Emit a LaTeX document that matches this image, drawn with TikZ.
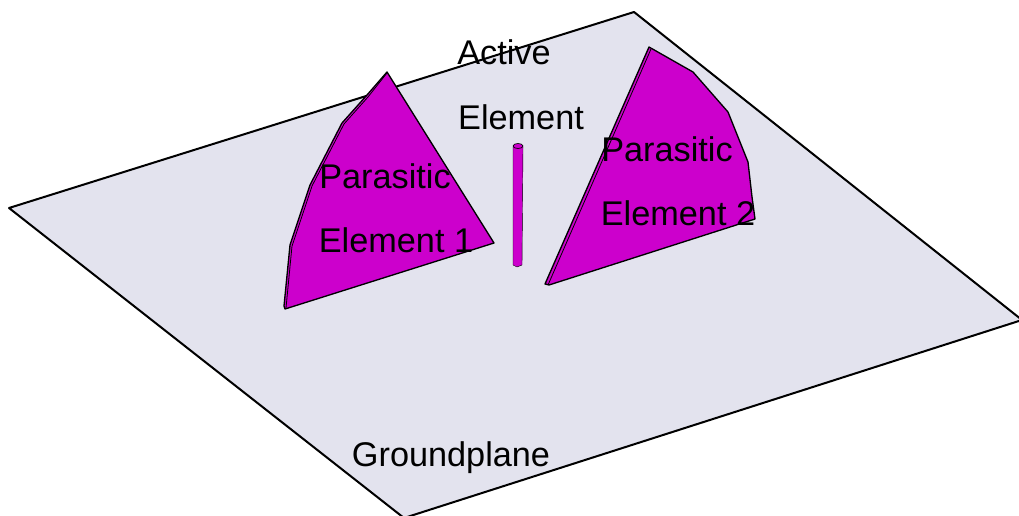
\documentclass[tikz,border=0pt]{standalone}
\usepackage{fontspec}
\setmainfont{Liberation Sans}
\definecolor{planegrey}{HTML}{E3E3EE}
\definecolor{elemmag}{HTML}{CC00CC}
\begin{document}
\begin{tikzpicture}[
    x=0.75pt, y=-0.75pt,
    plate/.style={draw=black, line width=1.5pt, line join=round, fill=planegrey},
    patch/.style={draw=black, line width=1pt, line join=round, fill=elemmag},
    edgeline/.style={draw=black, line width=0.6pt, line join=round},
    lbl/.style={inner sep=0pt, text=black, font=\fontsize{25.7}{30}\selectfont}
  ]
    \useasboundingbox (0,0) rectangle (1019,516);
    \begin{scope}
      \clip (0,0) rectangle (1019,516);
      % ground plane
      \filldraw[plate] (9,208) -- (634,12) -- (1022,320) -- (404,518) -- cycle;
    \end{scope}
    % parasitic element 1
    \filldraw[patch] (387,72) -- (494,243) -- (285,309) -- (284,306) -- (290,245) -- (310,185)
      -- (342,123) -- (367,95) -- cycle;
    \draw[edgeline] (387,73) -- (368,97) -- (344,124) -- (312,186) -- (292,246) -- (286,308);
    % parasitic element 2
    \filldraw[patch] (649,47) -- (693,72) -- (728,112) -- (748,162) -- (752,197) -- (755,219)
      -- (549,285) -- (545,284) -- cycle;
    \draw[edgeline] (651,49) -- (548,285);
    % active element
    \filldraw[patch, line width=0.3pt] (513,147) -- (513,265) -- (517,267) -- (522,265) -- (523,147) -- cycle;
    \filldraw[patch, line width=0.5pt] (518,146) ellipse (5 and 2.5);
    % labels
    \node[lbl] (active) at (504,52) {Active};
    \node[lbl] (element) at (521,117) {Element};
    \node[lbl] (para1) at (385,176) {Parasitic};
    \node[lbl] (elem1) at (396,240) {Element 1};
    \node[lbl] (para2) at (667,149) {Parasitic};
    \node[lbl] (elem2) at (678,213) {Element 2};
    \node[lbl] (ground) at (451,458) {Groundplane};
  \end{tikzpicture}
\end{document}
